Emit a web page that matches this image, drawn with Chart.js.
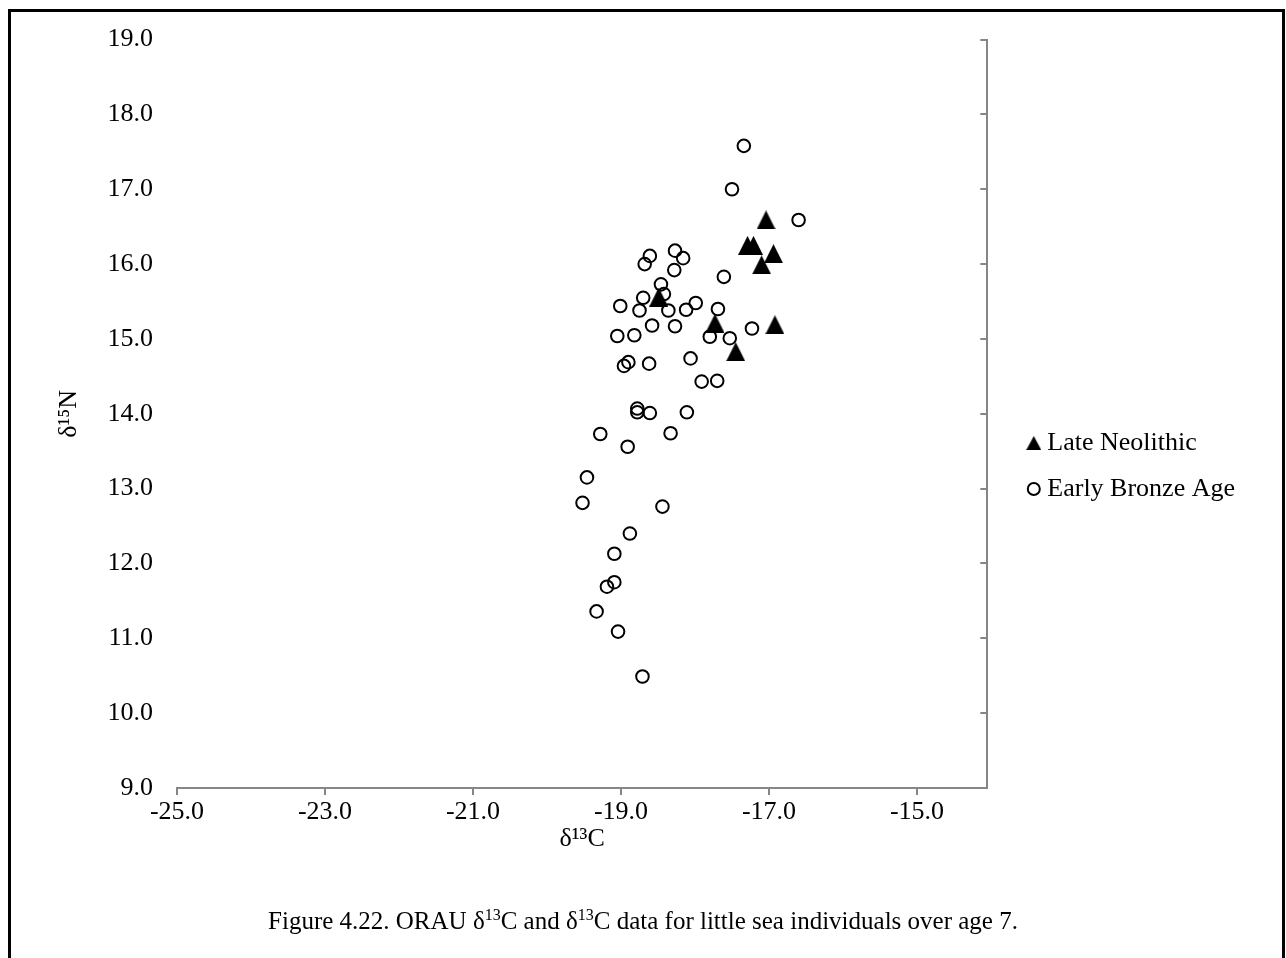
<!DOCTYPE html>
<html lang="en">
<head>
<meta charset="UTF-8">
<title>ORAU d13C and d15N, Little Sea</title>
<script src="https://cdn.jsdelivr.net/npm/chart.js"></script>
<style>
  html, body { margin: 0; padding: 0; background: #fff; overflow: hidden; }
  .frame {
    position: absolute; left: 8px; top: 9px; width: 1277px; height: 980px;
    box-sizing: border-box; border: 3px solid #000; border-bottom: none;
  }
  #plot { position: absolute; left: 0; top: 0; }
  .caption {
    position: absolute; left: 0; top: 906px; width: 1286px; text-align: center;
    font: 25px "Liberation Serif", "Times New Roman", serif; line-height: 30px; color: #000;
  }
  .caption sup { font-size: 16px; line-height: 0; }
</style>
</head>
<body>
<div class="frame"></div>
<canvas id="plot" width="1286" height="958"></canvas>
<div class="caption">Figure 4.22. ORAU δ<sup>13</sup>C and δ<sup>13</sup>C data for little sea individuals over age 7.</div>

<script>
  // x axis tick labels
  const xTicks = [-25, -23, -21, -19, -17, -15];

  // Late Neolithic (triangles)
  const lateNeoC = [-17.04, -17.29, -17.21, -16.94, -17.10, -18.49, -17.73, -16.92, -17.45];
  const lateNeoN = [16.59, 16.25, 16.25, 16.14, 15.99, 15.56, 15.21, 15.19, 14.83];

  // Early Bronze Age (open circles)
  const ebaC = [-17.34, -17.50, -16.60, -18.27, -18.61, -18.16, -18.68, -18.28, -17.61, -18.46,
    -18.42, -18.70, -19.01, -18.75, -18.36, -18.12, -17.99, -17.69, -18.58, -18.27,
    -17.23, -19.05, -18.82, -17.80, -17.53, -18.06, -18.90, -18.96, -18.62, -17.91,
    -17.70, -18.78, -18.78, -18.61, -18.11, -19.28, -18.33, -18.91, -19.46, -19.52,
    -18.44, -18.88, -19.09, -19.09, -19.19, -19.33, -19.04, -18.71];
  const ebaN = [17.58, 17.00, 16.59, 16.18, 16.11, 16.08, 16.00, 15.92, 15.83, 15.73,
    15.60, 15.55, 15.44, 15.38, 15.38, 15.39, 15.48, 15.40, 15.18, 15.17,
    15.14, 15.04, 15.05, 15.03, 15.01, 14.74, 14.69, 14.64, 14.67, 14.43,
    14.44, 14.07, 14.02, 14.01, 14.02, 13.73, 13.74, 13.56, 13.15, 12.81,
    12.76, 12.40, 12.13, 11.75, 11.69, 11.36, 11.09, 10.49];

  const serif = '"Liberation Serif", "Times New Roman", serif';
  const axisGrey = '#868686';

  // excel style marker: isoceles triangle
  function triangle(w, h) {
    const c = document.createElement('canvas');
    c.width = w;
    c.height = h;
    const g = c.getContext('2d');
    g.fillStyle = '#000';
    g.beginPath();
    g.moveTo(w / 2, 0);
    g.lineTo(w, h);
    g.lineTo(0, h);
    g.closePath();
    g.fill();
    return c;
  }
  const bigTri = triangle(19, 19);
  const smallTri = triangle(15, 14);

  const toPoints = (xs, ys) => xs.map((x, i) => ({ x: x, y: ys[i] }));

  new Chart(document.getElementById('plot'), {
    type: 'scatter',
    data: {
      datasets: [{
        label: 'Late Neolithic',
        data: toPoints(lateNeoC, lateNeoN),
        pointStyle: bigTri,
        pointRadius: 9,
        backgroundColor: '#000',
        borderColor: '#000'
      }, {
        label: 'Early Bronze Age',
        data: toPoints(ebaC, ebaN),
        pointStyle: 'circle',
        pointRadius: 6.3,
        borderWidth: 2,
        borderColor: '#000',
        backgroundColor: 'rgba(0,0,0,0)'
      }]
    },
    options: {
      responsive: false,
      animation: false,
      layout: { padding: { left: 40, top: 37, right: 41, bottom: 63 } },
      plugins: {
        tooltip: { enabled: false },
        legend: {
          position: 'right',
          align: 'center',
          maxWidth: 300,
          labels: {
            usePointStyle: true,
            boxWidth: 1,
            boxHeight: 8.5,
            padding: 20,
            color: '#000',
            font: { family: serif, size: 26 },
            generateLabels: function (chart) {
              return Chart.defaults.plugins.legend.labels.generateLabels(chart).map(item => {
                if (item.datasetIndex === 0) item.pointStyle = smallTri;
                return item;
              });
            }
          }
        }
      },
      scales: {
        x: {
          type: 'linear',
          position: 'bottom',
          min: -25,
          max: -14.05,
          afterBuildTicks: s => { s.ticks = xTicks.map(v => ({ value: v })); },
          ticks: {
            autoSkip: false,
            maxRotation: 0,
            padding: 2,
            color: '#000',
            font: { family: serif, size: 26 },
            callback: v => v.toFixed(1)
          },
          grid: { drawOnChartArea: false, drawTicks: true, tickLength: 7, color: axisGrey, lineWidth: 2 },
          border: { display: true, color: axisGrey, width: 2 },
          title: {
            display: true,
            text: 'δ¹³C',
            color: '#000',
            font: { family: serif, size: 26 },
            padding: { top: 0, bottom: 40 }
          },
          afterFit: s => { s.height = 107; }
        },
        y: {
          position: 'left',
          min: 9,
          max: 19,
          ticks: {
            stepSize: 1,
            padding: 24,
            color: '#000',
            font: { family: serif, size: 26 },
            callback: v => v.toFixed(1)
          },
          grid: { display: false, drawTicks: false },
          border: { display: false },
          title: {
            display: true,
            text: 'δ¹⁵N',
            color: '#000',
            font: { family: serif, size: 26 },
            padding: { top: 14, bottom: 0 }
          },
          afterFit: s => { s.width = 137; }
        },
        // right hand line with inward ticks
        y2: {
          position: 'right',
          min: 9,
          max: 19,
          ticks: { display: false, stepSize: 1 },
          grid: { drawOnChartArea: false, drawTicks: true, tickLength: -7, color: axisGrey, lineWidth: 2 },
          border: { display: true, color: axisGrey, width: 2 },
          afterFit: s => { s.width = 26; }
        }
      }
    }
  });
</script>
</body>
</html>
